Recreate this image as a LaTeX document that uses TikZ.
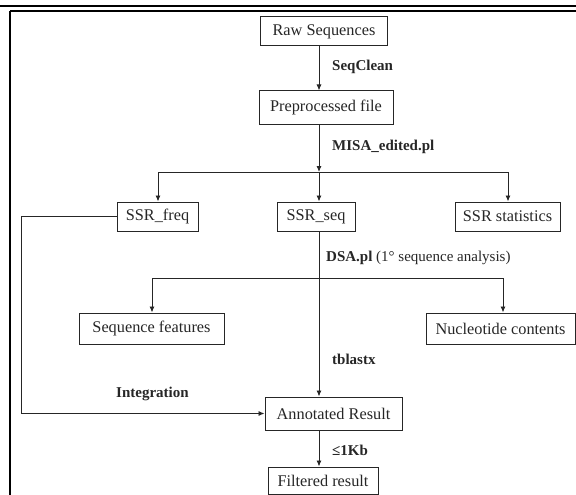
\documentclass[tikz,border=0pt]{standalone}
\usepackage{fontspec}
\setmainfont{Liberation Serif}
\usetikzlibrary{arrows.meta}
\begin{document}
\begin{tikzpicture}[x=1pt,y=-1pt,
  box/.style={draw=black!85,line width=1pt,inner sep=0pt,align=center,font=\fontsize{16.3}{18}\selectfont,text=black!85},
  lbl/.style={anchor=west,inner sep=0pt,font=\fontsize{15}{17}\selectfont\bfseries,text=black!85},
  ln/.style={draw=black!85,line width=0.9pt},
  arr/.style={ln,-{Latex[length=6pt,width=5pt]}}]
\useasboundingbox (0,0) rectangle (576,495);
% header rule and frame
\draw[line width=1.5pt] (0,6) -- (576,6);
\draw[line width=2.5pt] (0,6) -- (8,6);
\draw[line width=1.2pt] (10,11) -- (576,11);
\draw[line width=1.2pt] (10,11) -- (10,495);
% nodes
\node[box,minimum width=127pt,minimum height=29pt] (raw) at (324,31.5) {Raw Sequences};
\node[box,minimum width=134pt,minimum height=33pt] (pre) at (326,107.5) {Preprocessed file};
\node[box,minimum width=81pt,minimum height=29pt] (freq) at (157.5,216.5) {SSR\_freq};
\node[box,minimum width=78pt,minimum height=29pt] (seq) at (316,216.5) {SSR\_seq};
\node[box,minimum width=105pt,minimum height=29pt] (stat) at (507.5,216.5) {SSR statistics};
\node[box,minimum width=145pt,minimum height=31pt] (feat) at (151.5,328.5) {Sequence features};
\node[box,minimum width=149pt,minimum height=31pt] (nuc) at (500.5,328.5) {Nucleotide contents};
\node[box,minimum width=137pt,minimum height=33pt] (ann) at (333.5,413.5) {Annotated Result};
\node[box,minimum width=110pt,minimum height=27pt] (fil) at (323,480.5) {Filtered result};
% coordinates
\coordinate (sx) at (319,0);
\coordinate (qx) at (319,0);
\coordinate (b1) at (319,172);
\coordinate (b1l) at (158,172);
\coordinate (b1r) at (508,172);
\coordinate (b2l) at (152,278);
\coordinate (b2r) at (503,278);
\coordinate (fl) at (21,216.5);
\coordinate (fb) at (21,413.5);
% connectors
\draw[arr] (raw.south -| sx) -- (pre.north -| sx);
\draw[arr] (pre.south -| sx) -- (b1);
\draw[ln] (b1l) -- (b1r);
\draw[arr] (b1l) -- (freq.north -| b1l);
\draw[arr] (b1) -- (seq.north -| b1);
\draw[arr] (b1r) -- (stat.north -| b1r);
\draw[arr] (seq.south -| qx) -- (ann.north -| qx);
\draw[ln] (b2l) -- (b2r);
\draw[arr] (b2l) -- (feat.north -| b2l);
\draw[arr] (b2r) -- (nuc.north -| b2r);
\draw[arr] (freq.west) -- (fl) -- (fb) -- (ann.west);
\draw[arr] (ann.south -| sx) -- (fil.north -| sx);
% labels
\node[lbl] (l1) at (332,67) {SeqClean};
\node[lbl] (l2) at (332,147) {MISA\_edited.pl};
\node[lbl] (l3) at (326,258) {DSA.pl \textmd{(1° sequence analysis)}};
\node[lbl] (l4) at (332,359) {tblastx};
\node[lbl] (l5) at (116,394) {Integration};
\node[lbl] (l6) at (332,450) {≤1Kb};
\end{tikzpicture}
\end{document}
